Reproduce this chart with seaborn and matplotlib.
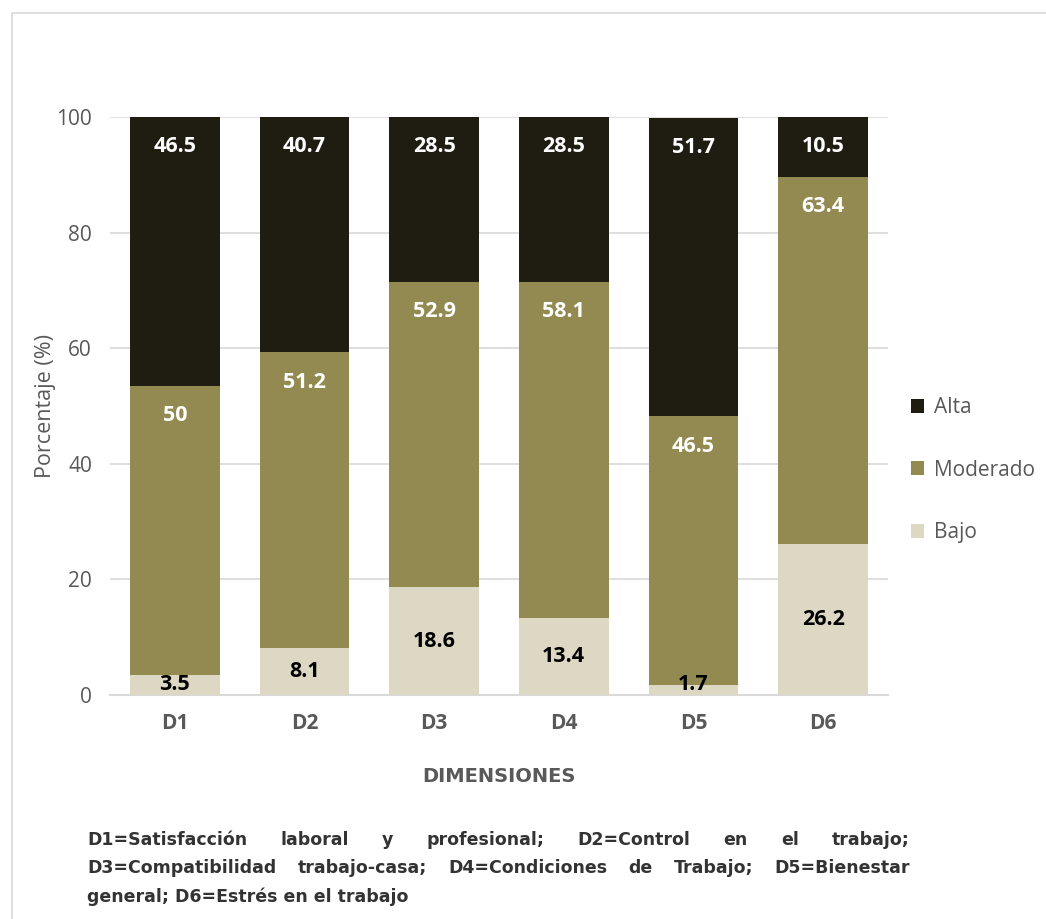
import numpy as np
import pandas as pd
import seaborn as sns
import matplotlib.pyplot as plt
from matplotlib.patches import Rectangle

# Data
dimensiones = ['D1', 'D2', 'D3', 'D4', 'D5', 'D6']
bajo = [3.5, 8.1, 18.6, 13.4, 1.7, 26.2]
moderado = [50, 51.2, 52.9, 58.1, 46.5, 63.4]
alta = [46.5, 40.7, 28.5, 28.5, 51.7, 10.5]

niveles = ['Alta', 'Moderado', 'Bajo']
colores = {'Alta': '#1f1c12', 'Moderado': '#938a52', 'Bajo': '#ddd8c3'}

nota_lineas = [
    "D1=Satisfacción laboral y profesional; D2=Control en el trabajo;",
    "D3=Compatibilidad trabajo-casa; D4=Condiciones de Trabajo; D5=Bienestar",
    "general; D6=Estrés en el trabajo",
]

df = pd.DataFrame({'dim': dimensiones, 'Bajo': bajo, 'Moderado': moderado, 'Alta': alta})

sns.set_style('white')
plt.rcParams['font.family'] = ['Open Sans', 'DejaVu Sans']

W, H = 1046, 919
fig = plt.figure(figsize=(W / 100, H / 100), dpi=100)
ax = fig.add_axes([110 / W, 1 - 695 / H, 778 / W, 578 / H])

gris = '#595959'
rejilla = '#d9d9d9'

# stacked bars
base = np.zeros(len(df))
for nivel in ['Bajo', 'Moderado', 'Alta']:
    sns.barplot(data=df, x='dim', y=nivel, color=colores[nivel], bottom=base,
                width=0.69, ax=ax, saturation=1, zorder=3, label=nivel,
                edgecolor='none', linewidth=0)
    vals = df[nivel].to_numpy()
    for i, v in enumerate(vals):
        if nivel == 'Bajo':
            # centred inside the segment
            ax.text(i, max(v / 2, 1.9), f'{v:g}', ha='center', va='center',
                    fontsize=15.5, fontweight='bold', color='black', zorder=4)
        else:
            # inside end: just below the top of the segment
            ax.annotate(f'{v:g}', (i, base[i] + v), xytext=(0, -21.5),
                        textcoords='offset points', ha='center', va='center',
                        fontsize=15.5, fontweight='bold', color='white', zorder=4,
                        annotation_clip=False)
    base = base + vals

ax.set_ylim(0, 100)
ax.set_xlim(-0.5, 5.5)
ax.set_yticks(range(0, 101, 20))
ax.grid(axis='y', color=rejilla, linewidth=1.2, zorder=0)
for s in ['top', 'right', 'left']:
    ax.spines[s].set_visible(False)
ax.spines['bottom'].set_color(rejilla)
ax.spines['bottom'].set_linewidth(1.5)
ax.tick_params(axis='y', length=0, labelsize=15, labelcolor=gris, pad=13)
ax.tick_params(axis='x', length=0, labelsize=15, labelcolor=gris, pad=13)
for t in ax.get_xticklabels():
    t.set_fontweight('bold')
ax.set_ylabel('Porcentaje (%)', fontsize=15.5, color=gris, labelpad=0)
ax.set_xlabel('DIMENSIONES', fontsize=14, color=gris, fontweight='bold',
              family=['Liberation Sans Narrow', 'DejaVu Sans'], labelpad=24)

# legend
handles, labels = ax.get_legend_handles_labels()
orden = {l: h for h, l in zip(handles, labels)}
leg = ax.legend([orden[n] for n in niveles], niveles, loc='center left',
                bbox_to_anchor=(1.005, 0.389), frameon=False, fontsize=15,
                labelcolor=gris, handlelength=0.65, handleheight=0.65,
                handletextpad=0.45, labelspacing=2.0)

# outer frame
fig.patches.append(Rectangle((12 / W, -0.1), 1.2, 1 - 13 / H + 0.1,
                             transform=fig.transFigure, fill=False,
                             edgecolor='#d9d9d9', linewidth=1.2))

# justified footnote
fig.canvas.draw()
renderer = fig.canvas.get_renderer()
x0, x1 = 87, 910
ys = [840, 868, 897]
fkw = dict(fontsize=12.5, fontweight='bold', color='#333333',
           family=['Liberation Sans Narrow', 'DejaVu Sans'], va='center', ha='left')
for k, (linea, yp) in enumerate(zip(nota_lineas, ys)):
    palabras = linea.split(' ')
    if k == len(nota_lineas) - 1:
        fig.text(x0 / W, 1 - yp / H, linea, **fkw)
        continue
    objs = [fig.text(0, 1 - yp / H, p, **fkw) for p in palabras]
    anchos = [o.get_window_extent(renderer).width for o in objs]
    hueco = (x1 - x0 - sum(anchos)) / (len(palabras) - 1)
    xp = x0
    for o, a in zip(objs, anchos):
        o.set_x(xp / W)
        xp += a + hueco

fig.savefig('out.png', dpi=100)
